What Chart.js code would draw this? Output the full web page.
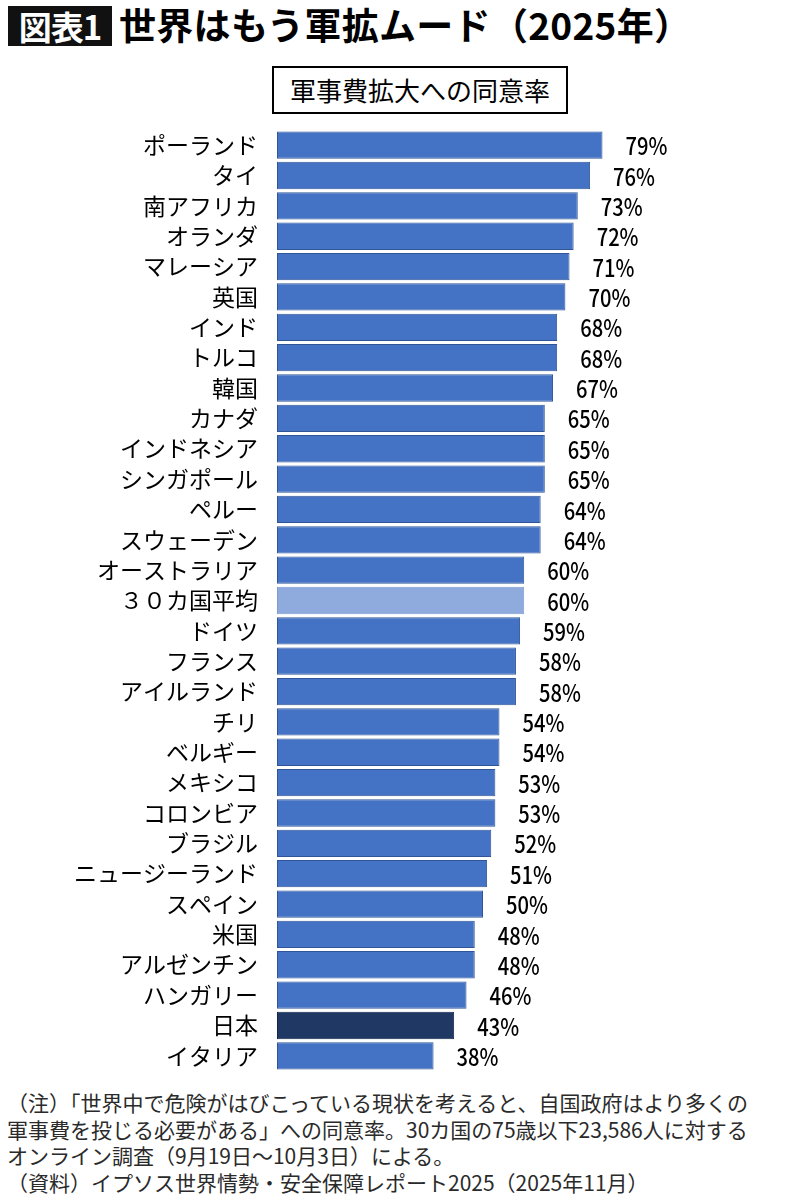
<!DOCTYPE html>
<html lang="ja">
<head>
<meta charset="utf-8">
<script src="https://cdn.jsdelivr.net/npm/chart.js@4.4.1/dist/chart.umd.min.js"></script>
<style>
  html, body { margin: 0; padding: 0; background: #fff; }
  body { width: 803px; height: 1199px; position: relative; overflow: hidden;
         font-family: "Noto Sans CJK JP", "Noto Sans", sans-serif; color: #000; }
  #tag { position: absolute; left: 8px; top: 6px; width: 104px; height: 40px;
         background: #111; color: #fff; font-weight: 700; font-size: 33px;
         line-height: 40px; text-align: center; letter-spacing: -1px; }
  #title { position: absolute; left: 119px; top: 1px; font-weight: 700;
           font-size: 37px; line-height: 46px; letter-spacing: 0.3px; }
  #subtitle { position: absolute; left: 272px; top: 66px; width: 292px; height: 44px;
              border: 2px solid #000; font-size: 26px; font-weight: 400;
              line-height: 44px; text-align: center; }
  #wrap { position: absolute; left: 0; top: 120px; width: 803px; height: 960px; }
  #notes { position: absolute; left: 7px; top: 1089px; font-size: 21px;
           line-height: 26.7px; color: #2a2a2a; white-space: nowrap; }
</style>
</head>
<body>
<div id="tag">図表1</div>
<div id="title">世界はもう軍拡ムード（2025年）</div>
<div id="subtitle">軍事費拡大への同意率</div>
<div id="wrap"><canvas id="chart"></canvas></div>
<div id="notes">
  <div>（注）「世界中で危険がはびこっている現状を考えると、自国政府はより多くの</div>
  <div>軍事費を投じる必要がある」への同意率。30カ国の75歳以下23,586人に対する</div>
  <div>オンライン調査（9月19日～10月3日）による。</div>
  <div>（資料）イプソス世界情勢・安全保障レポート2025（2025年11月）</div>
</div>
<script>
// ---- data ----
const countries = [
  "ポーランド", "タイ", "南アフリカ", "オランダ", "マレーシア", "英国",
  "インド", "トルコ", "韓国", "カナダ", "インドネシア", "シンガポール",
  "ペルー", "スウェーデン", "オーストラリア", "３０カ国平均", "ドイツ",
  "フランス", "アイルランド", "チリ", "ベルギー", "メキシコ", "コロンビア",
  "ブラジル", "ニュージーランド", "スペイン", "米国", "アルゼンチン",
  "ハンガリー", "日本", "イタリア"
];
const agreeRate = [
  79, 76, 73, 72, 71, 70,
  68, 68, 67, 65, 65, 65,
  64, 64, 60, 60, 59,
  58, 58, 54, 54, 53, 53,
  52, 51, 50, 48, 48,
  46, 43, 38
];
const averageLabel = "３０カ国平均";
const japanLabel = "日本";

const BLUE = "#4472C4", BLUE_EDGE = "#2F5597";
const LIGHT = "#8FAADC", LIGHT_EDGE = "#7E9BD3";
const NAVY = "#1F3864", NAVY_EDGE = "#14264A";

function pick(c, normal, avg, jp) {
  if (c === averageLabel) return avg;
  if (c === japanLabel) return jp;
  return normal;
}

// ---- value labels at bar ends (slightly condensed like the original) ----
const valueLabelsPlugin = {
  id: "valueLabels",
  afterDatasetsDraw(chart) {
    const { ctx } = chart;
    const meta = chart.getDatasetMeta(0);
    const sx = 0.84;
    meta.data.forEach((bar, i) => {
      ctx.save();
      ctx.translate(bar.x + 23, bar.y + 1);
      ctx.scale(sx, 1);
      ctx.font = "500 24px 'Noto Sans CJK JP'";
      ctx.fillStyle = "#000";
      ctx.textAlign = "left";
      ctx.textBaseline = "middle";
      ctx.fillText(agreeRate[i] + "%", 0, 0);
      ctx.restore();
    });
  }
};

new Chart(document.getElementById("chart"), {
  type: "bar",
  data: {
    labels: countries,
    datasets: [{
      data: agreeRate,
      backgroundColor: countries.map(c => pick(c, BLUE, LIGHT, NAVY)),
      borderColor: countries.map(c => pick(c, BLUE_EDGE, LIGHT_EDGE, NAVY_EDGE)),
      borderWidth: 1,
      borderSkipped: false,
      barPercentage: 0.9,
      categoryPercentage: 1.0
    }]
  },
  options: {
    indexAxis: "y",
    responsive: true,
    maintainAspectRatio: false,
    animation: false,
    layout: { padding: { top: 10, bottom: 9, left: 0, right: 114 } },
    plugins: {
      legend: { display: false },
      tooltip: { enabled: false }
    },
    scales: {
      x: {
        display: false,
        min: 0,
        max: 100
      },
      y: {
        grid: { display: false, drawTicks: false },
        border: { display: false },
        afterFit(scale) {
          scale.width = 277;
          scale.paddingTop = 0;
          scale.paddingBottom = 0;
        },
        ticks: {
          autoSkip: false,
          padding: 19,
          color: "#000",
          font: { family: "Noto Sans CJK JP", size: 23, weight: "400" }
        }
      }
    }
  },
  plugins: [valueLabelsPlugin]
});
</script>
</body>
</html>
